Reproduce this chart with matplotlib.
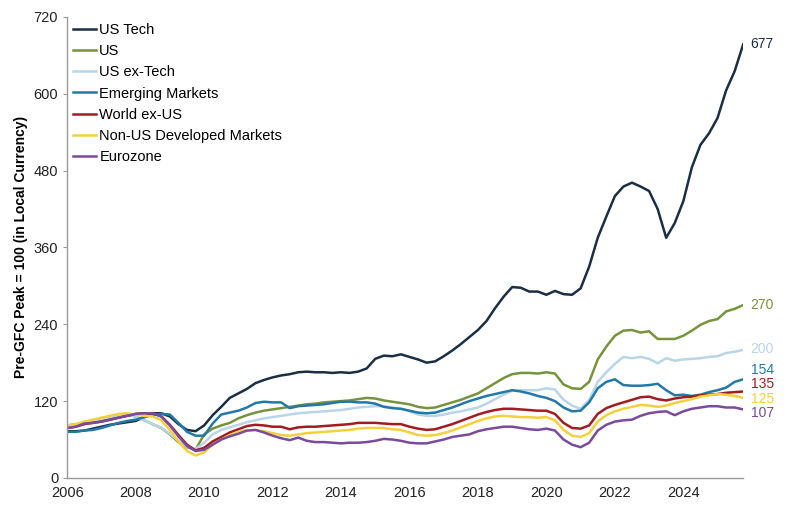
import matplotlib
matplotlib.use("Agg")
import matplotlib.pyplot as plt
import numpy as np

plt.rcParams['font.family'] = ['Liberation Sans', 'DejaVu Sans']

# quarterly observations, 2006 Q1 .. 2025 Q4
years = np.arange(2006, 2025.76, 0.25)

us_tech = [73, 73, 74, 77, 80, 83, 85, 87,
           89, 95, 101, 101, 96, 84, 75, 73,
           82, 98, 111, 125, 132, 139, 148, 153,
           157, 160, 162, 165, 166, 165, 165, 164, 165, 164, 166, 171,
           186, 191, 190, 193, 189, 185, 180, 182, 190, 199, 209, 220,
           231, 245, 265, 283, 298, 297, 291, 291, 286, 292, 287, 286,
           296, 330, 375, 408, 440, 455, 461, 455, 448, 420, 375, 398,
           432, 485, 520, 538, 562, 605, 635, 677]

us = [82, 84, 86, 89, 92, 95, 97, 99,
      96, 90, 84, 78, 68, 56, 48, 44,
      68, 77, 82, 86, 93, 98, 102, 105,
      107, 109, 111, 113, 115, 116, 118, 119, 120, 121, 123, 125,
      124, 121, 119, 117, 115, 111, 109, 110, 114, 118, 122, 127,
      132, 140, 148, 156, 162, 164, 164, 163, 165, 163, 146, 140,
      139, 150, 185, 205, 222, 230, 231, 227, 229, 217, 217, 217,
      222, 230, 239, 245, 248, 260, 264, 270]

us_ex_tech = [82, 84, 86, 89, 92, 95, 97, 99,
              96, 90, 84, 78, 69, 58, 49, 45,
              55, 68, 75, 79, 83, 87, 90, 93,
              95, 97, 99, 101, 102, 103, 104, 105, 106, 108, 110, 111,
              112, 112, 110, 108, 104, 99, 97, 97, 99, 102, 104, 107,
              110, 116, 123, 130, 136, 137, 137, 137, 140, 138, 122, 113,
              108, 122, 150, 165, 178, 189, 187, 189, 186, 179, 187, 183,
              185, 186, 187, 189, 190, 195, 197, 200]

emerging = [72, 72, 74, 75, 78, 82, 86, 89,
            91, 95, 98, 100, 99, 86, 72, 66,
            66, 85, 99, 102, 105, 110, 117, 119,
            118, 118, 109, 112, 113, 114, 115, 117, 119, 119, 118, 118,
            116, 111, 109, 108, 105, 102, 101, 102, 106, 110, 115, 120,
            124, 128, 131, 134, 137, 135, 132, 128, 125, 120, 110, 104,
            105, 118, 140, 150, 154, 145, 144, 144, 145, 147, 137, 129,
            130, 128, 130, 134, 137, 141, 150, 154]

world_ex_us = [78, 80, 84, 86, 88, 91, 94, 97,
               100, 101, 101, 96, 83, 67, 52, 43,
               47, 57, 64, 71, 76, 81, 83, 82,
               80, 80, 76, 79, 80, 80, 81, 82, 83, 84, 86, 86,
               86, 85, 84, 84, 80, 77, 75, 76, 80, 84, 89, 94,
               99, 103, 106, 108, 108, 107, 106, 105, 105, 100, 86, 78,
               77, 82, 100, 109, 114, 118, 122, 126, 127, 123, 121, 124,
               126, 127, 129, 130, 131, 133, 134, 135]

non_us_dev = [80, 84, 88, 91, 94, 97, 100, 101,
              99, 97, 96, 90, 75, 57, 42, 35,
              40, 52, 60, 67, 72, 74, 75, 73,
              70, 67, 66, 68, 70, 71, 72, 73, 74, 75, 77, 78,
              78, 78, 76, 75, 71, 67, 66, 67, 70, 74, 79, 84,
              89, 93, 96, 97, 96, 95, 95, 94, 95, 90, 75, 66,
              64, 70, 88, 98, 104, 108, 111, 114, 113, 111, 113, 117,
              120, 123, 127, 129, 131, 130, 128, 125]

eurozone = [78, 80, 85, 86, 88, 91, 94, 97,
            100, 101, 101, 96, 82, 65, 50, 42,
            44, 52, 60, 65, 69, 74, 75, 71,
            66, 62, 59, 63, 58, 56, 56, 55, 54, 55, 55, 56,
            58, 61, 60, 58, 55, 54, 54, 57, 60, 64, 66, 68,
            73, 76, 78, 80, 80, 78, 76, 75, 77, 74, 60, 52,
            48, 55, 74, 83, 88, 90, 91, 97, 101, 103, 104, 98,
            104, 108, 110, 112, 112, 110, 110, 107]

names = ["US Tech", "US", "US ex-Tech", "Emerging Markets", "World ex-US",
         "Non-US Developed Markets", "Eurozone"]
series = [us_tech, us, us_ex_tech, emerging, world_ex_us, non_us_dev, eurozone]
colors = ['#1a2e44', '#77933c', '#b9d5e8', '#2279a8', '#a01c22', '#f3d13c', '#7a4a9c']
end_labels = ["677", "270", "200", "154", "135", "125", "107"]
label_y = [677, 270, 201, 168, 146, 124, 102]   # text placement, nudged apart

fig, ax = plt.subplots(figsize=(8, 5.09), dpi=100)
fig.subplots_adjust(left=0.084, right=0.929, bottom=0.061, top=0.967)

for name, vals, col in zip(names, series, colors):
    ax.plot(years, vals, color=col, lw=1.8, label=name, solid_joinstyle='round')

for txt, yv, col in zip(end_labels, label_y, colors):
    ax.text(years[-1] + 0.22, yv, txt, color=col, fontsize=10, va='center', ha='left')

ax.set_xlim(2006, 2025.75)
ax.set_ylim(0, 720)
ax.set_yticks(np.arange(0, 721, 120))
ax.set_xticks(np.arange(2006, 2025, 2))
ax.tick_params(axis='both', labelsize=10.5, colors='#222222', length=3, color='#999999')
ax.tick_params(axis='x', length=0, pad=6)
for s in ['top', 'right']:
    ax.spines[s].set_visible(False)
for s in ['left', 'bottom']:
    ax.spines[s].set_color('#999999')
    ax.spines[s].set_linewidth(1.0)

ax.set_ylabel('Pre-GFC Peak = 100 (in Local Currency)', fontsize=10, fontweight='bold', labelpad=4)

ax.legend(loc='upper left', frameon=False, fontsize=10.5, handlelength=1.6,
          handletextpad=0.2, labelspacing=0.5, borderaxespad=0.0,
          bbox_to_anchor=(0.0, 1.0))

fig.savefig('out.png', dpi=100)
